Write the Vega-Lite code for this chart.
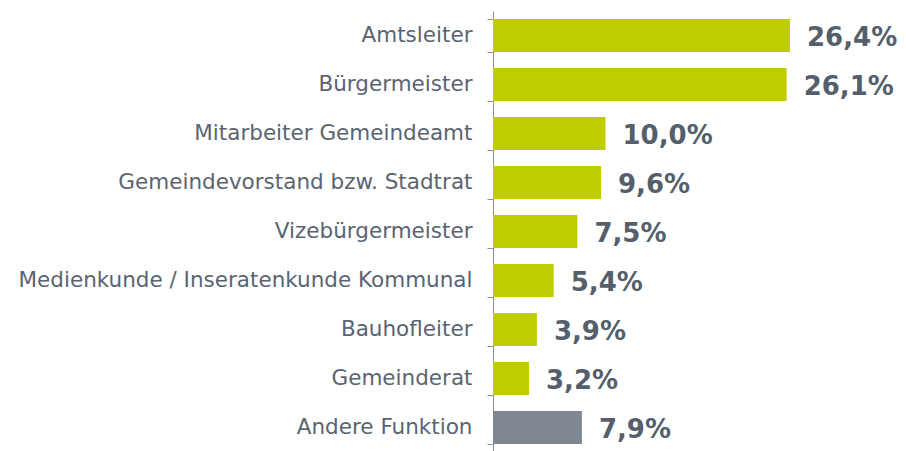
{
  "$schema": "https://vega.github.io/schema/vega-lite/v6.json",
  "width": 405,
  "height": 441,
  "autosize": "none",
  "padding": {"left": 493, "top": 11, "right": 8, "bottom": 0},
  "background": "white",
  "config": {"view": {"stroke": null}},
  "data": {
    "values": [
      {"kat": "Amtsleiter", "wert": 26.4, "label": "26,4%", "typ": "a"},
      {"kat": "Bürgermeister", "wert": 26.1, "label": "26,1%", "typ": "a"},
      {"kat": "Mitarbeiter Gemeindeamt", "wert": 10.0, "label": "10,0%", "typ": "a"},
      {"kat": "Gemeindevorstand bzw. Stadtrat", "wert": 9.6, "label": "9,6%", "typ": "a"},
      {"kat": "Vizebürgermeister", "wert": 7.5, "label": "7,5%", "typ": "a"},
      {"kat": "Medienkunde / Inseratenkunde Kommunal", "wert": 5.4, "label": "5,4%", "typ": "a"},
      {"kat": "Bauhofleiter", "wert": 3.9, "label": "3,9%", "typ": "a"},
      {"kat": "Gemeinderat", "wert": 3.2, "label": "3,2%", "typ": "a"},
      {"kat": "Andere Funktion", "wert": 7.9, "label": "7,9%", "typ": "b"}
    ]
  },
  "encoding": {
    "y": {
      "field": "kat",
      "type": "nominal",
      "sort": null,
      "title": null,
      "scale": {"paddingInner": 0.33, "paddingOuter": 0.165},
      "axis": {
        "tickBand": "extent",
        "tickSize": 6,
        "tickColor": "#8A9099",
        "domainColor": "#8A9099",
        "labelPadding": 15,
        "labelFont": "DejaVu Sans",
        "labelFontSize": 21.5,
        "labelColor": "#5A6470",
        "labelLimit": 600
      }
    },
    "x": {
      "field": "wert",
      "type": "quantitative",
      "scale": {"domain": [0, 36], "nice": false},
      "axis": null
    }
  },
  "layer": [
    {
      "mark": {"type": "bar"},
      "encoding": {
        "color": {
          "field": "typ",
          "type": "nominal",
          "scale": {"domain": ["a", "b"], "range": ["#BFCC00", "#7F8790"]},
          "legend": null
        }
      }
    },
    {
      "mark": {
        "type": "text",
        "align": "left",
        "baseline": "middle",
        "dx": 17,
        "dy": 2,
        "font": "DejaVu Sans",
        "fontWeight": "bold",
        "fontSize": 26,
        "color": "#545F6B"
      },
      "encoding": {"text": {"field": "label"}}
    }
  ]
}
